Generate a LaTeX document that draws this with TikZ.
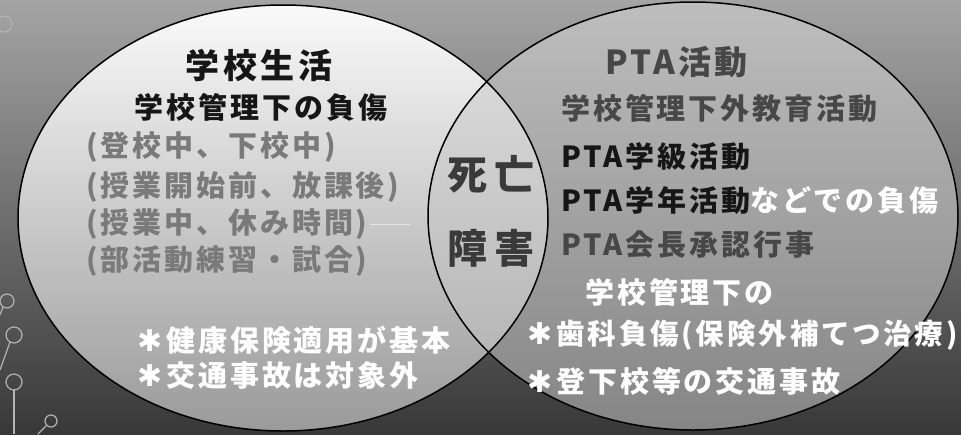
\documentclass[tikz,border=0pt]{standalone}
\usepackage{fontspec}
\newfontfamily\jp{Noto Sans CJK JP}[LetterSpace=10]
\newfontfamily\jpw{Noto Sans CJK JP}[LetterSpace=16]
\newfontfamily\dv{DejaVu Sans}
\definecolor{bgtop}{HTML}{A4A4A4}
\definecolor{bgmid}{HTML}{6C6C6C}
\definecolor{bgbot}{HTML}{383838}
\definecolor{ltop}{HTML}{FAFAFA}
\definecolor{lmid}{HTML}{D4D4D4}
\definecolor{lbot}{HTML}{9A9A9A}
\definecolor{rtop}{HTML}{BEBEBE}
\definecolor{rmid}{HTML}{A2A2A2}
\definecolor{rbot}{HTML}{858585}
\definecolor{ztop}{HTML}{E2E2E2}
\definecolor{zbot}{HTML}{ADADAD}
\definecolor{inkblack}{HTML}{161616}
\definecolor{inkgray}{HTML}{7A7A7A}
\definecolor{inkdark}{HTML}{474747}
\definecolor{inklens}{HTML}{3A3A3A}
\definecolor{wire}{HTML}{B4B4B4}
\newcommand{\myast}{{\dv\bfseries\fontsize{30}{30}\selectfont ✱}\hspace{4pt}}
\begin{document}
\begin{tikzpicture}[x=1pt,y=-1pt,
  txt/.style={inner sep=0pt, font=\jp\bfseries\fontsize{29}{31}\selectfont},
  title/.style={inner sep=0pt, font=\jp\bfseries\fontsize{34}{36}\selectfont},
  pta/.style={inner sep=0pt, font=\jp\bfseries\fontsize{33}{35}\selectfont},
  lens/.style={inner sep=0pt, font=\jpw\bfseries\fontsize{40}{42}\selectfont, text=inklens},
  rim/.style={draw=black, line width=1.5pt},
  wirestyle/.style={draw=wire, line width=1.2pt}]
\useasboundingbox (0,0) rectangle (961,434);
% background
\shade[top color=bgtop, middle color=bgmid, bottom color=bgbot] (0,0) rectangle (961,434);
% circuit decoration
\draw[wirestyle] (4,24) circle (8pt);
\draw[wirestyle] (7,301) circle (7pt);
\draw[wirestyle] (3,307) -- (0,315);
\draw[wirestyle] (14,335) circle (8pt);
\draw[wirestyle] (10,342) -- (0,370);
\draw[wirestyle] (14,382) circle (8pt);
\draw[wirestyle] (14,390) -- (14,434);
\draw[wirestyle] (51,421) circle (6pt);
\draw[wirestyle] (46,426) -- (38,434);
% ellipses
\coordinate (LC) at (283,218);
\coordinate (RC) at (693,216);
\shade[top color=ltop, middle color=lmid, bottom color=lbot] (LC) ellipse [x radius=265pt, y radius=213pt];
\shade[top color=rtop, middle color=rmid, bottom color=rbot] (RC) ellipse [x radius=265pt, y radius=214pt];
\begin{scope}
  \clip (LC) ellipse [x radius=265pt, y radius=213pt];
  \shade[top color=ztop, bottom color=zbot] (RC) ellipse [x radius=265pt, y radius=214pt];
\end{scope}
\draw[rim] (LC) ellipse [x radius=265pt, y radius=213pt];
\draw[rim] (RC) ellipse [x radius=265pt, y radius=214pt];
% faint line
\draw[white!80!gray, line width=0.8pt] (370,224) -- (410,224);
% left texts
\node[title, text=inkblack] (l1) at (259,66) {学校生活};
\node[txt, text=inkblack] (l2) at (261,107) {学校管理下の負傷};
\node[txt, text=inkgray, anchor=west] (l3) at (86,147) {(登校中、下校中)};
\node[txt, text=inkgray, anchor=west] (l4) at (86,187) {(授業開始前、放課後)};
\node[txt, text=inkgray, anchor=west] (l5) at (86,224) {(授業中、休み時間)};
\node[txt, text=inkgray, anchor=west] (l6) at (86,261) {(部活動練習・試合)};
\node[txt, text=white, anchor=west] (l7) at (137,340) {\myast 健康保険適用が基本};
\node[txt, text=white, anchor=west] (l8) at (137,375) {\myast 交通事故は対象外};
% lens texts
\node[lens] (c1) at (491,174) {死亡};
\node[lens] (c2) at (491,248) {障害};
% right texts
\node[pta, text=inkdark, anchor=west] (r1) at (605,62) {PTA活動};
\node[txt, text=inkdark, anchor=west] (r2) at (561,108) {学校管理下外教育活動};
\node[txt, text=inkblack, anchor=west] (r3) at (561,157) {PTA学級活動};
\node[txt, text=inkblack, anchor=west] (r4) at (561,201) {PTA学年活動\textcolor{white}{などでの負傷}};
\node[txt, text=inkdark, anchor=west] (r5) at (561,245) {PTA会長承認行事};
\node[txt, text=white, anchor=west] (r6) at (585,292) {学校管理下の};
\node[txt, text=white, anchor=west, font=\jp\bfseries\fontsize{28.5}{30}\selectfont] (r7) at (527,335) {\myast 歯科負傷(保険外補てつ治療)};
\node[txt, text=white, anchor=west] (r8) at (527,381) {\myast 登下校等の交通事故};
\end{tikzpicture}
\end{document}
